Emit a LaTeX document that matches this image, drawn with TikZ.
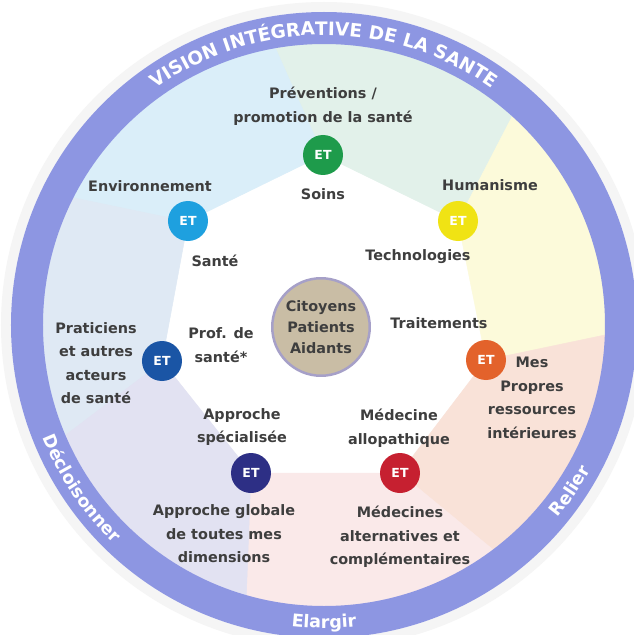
\documentclass[tikz,border=0pt]{standalone}
\usepackage{fontspec}
\setmainfont{DejaVu Sans}
\usetikzlibrary{decorations.text}
\definecolor{ringblue}{RGB}{141,150,226}
\definecolor{txtgrey}{RGB}{62,62,62}
\definecolor{tancirc}{RGB}{201,189,165}
\definecolor{tanline}{RGB}{166,160,200}
\definecolor{etgreen}{RGB}{30,155,75}
\definecolor{etcyan}{RGB}{30,160,223}
\definecolor{etyellow}{RGB}{240,227,20}
\definecolor{etblue}{RGB}{26,85,165}
\definecolor{etorange}{RGB}{227,98,43}
\definecolor{etnavy}{RGB}{45,47,133}
\definecolor{etred}{RGB}{198,32,48}
\definecolor{bgreen}{RGB}{226,241,234}
\definecolor{byellow}{RGB}{252,250,218}
\definecolor{borange}{RGB}{249,226,216}
\definecolor{bred}{RGB}{250,233,233}
\definecolor{bnavy}{RGB}{226,226,242}
\definecolor{bblue}{RGB}{223,233,244}
\definecolor{bcyan}{RGB}{218,238,249}
\newcommand\ringfont{\bfseries\fontsize{17.5}{17.5}\selectfont\color{white}}
\newcommand\topfont{\bfseries\fontsize{18.5}{18.5}\selectfont\color{white}}
\begin{document}
\begin{tikzpicture}[x=1pt, y=1pt,
    lbl/.style={align=center, text=txtgrey, font=\bfseries\fontsize{14.4}{23.5}\selectfont},
    et/.style={circle, fill=#1, minimum size=40pt, inner sep=0pt, text=white, font=\bfseries\fontsize{12.5}{12.5}\selectfont},
    ringtext/.style={decorate, decoration={text along path, text align=center, text={#1}}}]
\fill[white](-324,-310) rectangle (310,325);
\useasboundingbox (-324,-310) rectangle (310,325);
\coordinate (cprev) at (-1,170);
\coordinate (chum) at (134,104);
\coordinate (ctrait) at (162,-35);
\coordinate (cmed) at (76,-148);
\coordinate (capp) at (-73,-148);
\coordinate (cprat) at (-162,-36);
\coordinate (cenv) at (-136,104);
\foreach \p/\q/\s/\e/\c in {cprev/chum/100/48/bgreen, chum/ctrait/48/-2/byellow, ctrait/cmed/-2/-53/borange, cmed/capp/-53/-106/bred, capp/cprat/-106/-157/bnavy, cprat/cenv/-157/-207/bblue, cenv/cprev/-207/-260/bcyan}
{
    \fill[\c, draw=\c, line width=.5](\p)--(\s:282) arc[start angle=\s, end angle=\e, radius=282]--(\q)--cycle;
}
\draw[black!4, line width=10](0,0) circle (318);
\draw[ringblue, line width=32](0,0) circle (297);
\path[ringtext={|\topfont|VISION INTÉGRATIVE DE LA SANTE}](135:290) arc[start angle=135, end angle=45, radius=290];
\path[ringtext={|\ringfont|Décloisonner}](195:303) arc[start angle=195, end angle=233, radius=303];
\path[ringtext={|\ringfont|Elargir}](255:303) arc[start angle=255, end angle=285, radius=303];
\path[ringtext={|\ringfont|Relier}](311:303) arc[start angle=311, end angle=341, radius=303];
\node[circle, fill=tancirc, draw=tanline, line width=2.5, minimum size=92pt, lbl, font=\bfseries\fontsize{14.4}{21}\selectfont](citoyens) at (-3,-2){Citoyens\\Patients\\Aidants};
\foreach \p/\c in {cprev/etgreen, chum/etyellow, ctrait/etorange, cmed/etred, capp/etnavy, cprat/etblue, cenv/etcyan}
{
    \node[et=\c](n\p) at (\p){ET};
}
\node[lbl](prev) at (-1,219){Préventions /\\promotion de la santé};
\node[lbl](soins) at (-1,131){Soins};
\node[lbl](env) at (-174,139){Environnement};
\node[lbl](sante) at (-109,64){Santé};
\node[lbl](hum) at (166,140){Humanisme};
\node[lbl](techno) at (94,68){Technologies};
\node[lbl](trait) at (115,2){Traitements};
\node[lbl](mes) at (208,-73){Mes\\Propres\\ressources\\intérieures};
\node[lbl](prat) at (-228,-38){Praticiens\\et autres\\acteurs\\de santé};
\node[lbl](prof) at (-103,-20){Prof. de\\santé*};
\node[lbl](appspec) at (-82,-102){Approche\\spécialisée};
\node[lbl](appglob) at (-100,-209){Approche globale\\de toutes mes\\dimensions};
\node[lbl](medallo) at (75,-103){Médecine\\allopathique};
\node[lbl](medalt) at (76,-212){Médecines\\alternatives et\\complémentaires};
\end{tikzpicture}
\end{document}
